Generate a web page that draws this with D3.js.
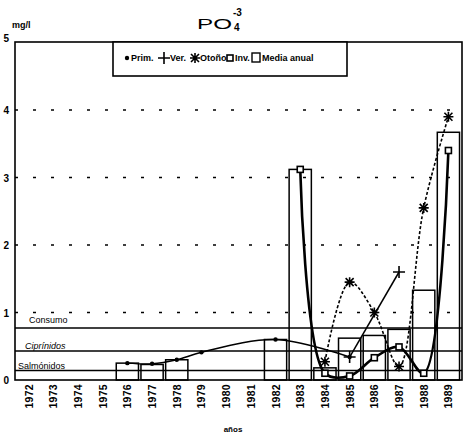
<!DOCTYPE html>
<html>
<head>
<meta charset="utf-8">
<script src="https://cdn.jsdelivr.net/npm/d3@7"></script>
<style>
  body { margin: 0; background: #fff; }
  text { font-family: "Liberation Sans", Arial, sans-serif; fill: #000; }
</style>
</head>
<body>
<svg id="chart" width="467" height="436"></svg>
<script>
// years on the x axis
const years = [1972,1973,1974,1975,1976,1977,1978,1979,1980,1981,1982,1983,1984,1985,1986,1987,1988,1989];
// seasonal PO4 values (mg/l), null = no sample
const prim   = [null,null,null,null,0.25,0.24,0.30,0.41,null,null,0.60,null,null,0.34,null,null,null,null];
const ver    = [null,null,null,null,null,null,null,null,null,null,null,null,null,0.34,null,1.60,null,null];
const otono  = [null,null,null,null,null,null,null,null,null,null,null,null,0.27,1.45,1.00,0.20,2.55,3.90];
const inv    = [null,null,null,null,null,null,null,null,null,null,null,3.12,0.10,0.06,0.33,0.49,0.10,3.40];
const media  = [null,null,null,null,0.25,0.23,0.30,null,null,null,0.60,3.12,0.18,0.62,0.66,0.75,1.33,3.67];
// limit lines
const limitNames  = ["Consumo","Ciprínidos","Salmónidos"];
const limitValues = [0.77,0.43,0.14];
const yTicks = [0,1,2,3,4,5];

const svg = d3.select("#chart");
const mLeft = 15, mRight = 462, mTop = 42, mBottom = 380;

const x = d3.scaleBand().domain(years).range([mLeft, mRight]).padding(0.1);
const y = d3.scaleLinear().domain([0,5]).range([mBottom, mTop + 0.5]);
const cx = d => x(d) + x.bandwidth()/2;

// dotted grid
svg.append("g")
    .selectAll("line")
    .data(yTicks.filter(d => d > 0 && d < 5))
    .enter().append("line")
    .attr("x1", mLeft).attr("x2", mRight)
    .attr("y1", y).attr("y2", y)
    .attr("stroke", "#000")
    .attr("stroke-width", 1.3)
    .attr("stroke-dasharray", "3,15");

// limit lines + labels
svg.append("g")
    .selectAll("line")
    .data(limitValues)
    .enter().append("line")
    .attr("x1", mLeft).attr("x2", mRight)
    .attr("y1", y).attr("y2", y)
    .attr("stroke", "#000")
    .attr("stroke-width", 1.4);

const limitLabelX = [29, 25, 18];
const limitLabelDy = [-5, -2, -2];
svg.append("g")
    .selectAll("text")
    .data(limitNames)
    .enter().append("text")
    .attr("x", (d,i) => limitLabelX[i])
    .attr("y", (d,i) => y(limitValues[i]) + limitLabelDy[i])
    .attr("font-size", 9)
    .attr("font-style", (d,i) => i == 1 ? "italic" : "normal")
    .text(d => d);

// bars (media anual)
svg.append("g")
    .selectAll("rect")
    .data(years.filter((d,i) => media[i] != null))
    .enter().append("rect")
    .attr("x", d => x(d))
    .attr("width", x.bandwidth())
    .attr("y", d => y(media[years.indexOf(d)]))
    .attr("height", d => mBottom - y(media[years.indexOf(d)]))
    .attr("fill", "none")
    .attr("stroke", "#000")
    .attr("stroke-width", 1.5);

// season lines
const line = d3.line()
    .defined(d => d[1] != null)
    .x(d => cx(d[0]))
    .y(d => y(d[1]))
    .curve(d3.curveCatmullRom.alpha(0.5));

function pts(arr) {
    return years.map((yr,i) => [yr, arr[i]]).filter(d => d[1] != null);
}

svg.append("path").datum(pts(prim)).attr("d", line)
    .attr("fill", "none").attr("stroke", "#000").attr("stroke-width", 1.5);
svg.append("path").datum(pts(ver)).attr("d", line)
    .attr("fill", "none").attr("stroke", "#000").attr("stroke-width", 1.5);
svg.append("path").datum(pts(otono)).attr("d", line)
    .attr("fill", "none").attr("stroke", "#000").attr("stroke-width", 1.6)
    .attr("stroke-dasharray", "3,2");
svg.append("path").datum(pts(inv)).attr("d", line)
    .attr("fill", "none").attr("stroke", "#000").attr("stroke-width", 2.6);

// markers
function dot(g) {
    g.append("circle").attr("r", 2.2).attr("fill", "#000");
}
function plus(g) {
    g.append("path").attr("d", "M-6,0H6M0,-6V6").attr("stroke", "#000").attr("stroke-width", 1.6);
}
function star(g) {
    g.append("path").attr("d", "M-5,0H5M0,-5V5M-4,-4L4,4M-4,4L4,-4")
        .attr("stroke", "#000").attr("stroke-width", 1.6);
}
function sq(g) {
    g.append("rect").attr("x", -3).attr("y", -3).attr("width", 6).attr("height", 6)
        .attr("fill", "#fff").attr("stroke", "#000").attr("stroke-width", 1.6);
}

function markers(arr, fn) {
    svg.append("g")
        .selectAll("g")
        .data(pts(arr))
        .enter().append("g")
        .attr("transform", d => "translate(" + cx(d[0]) + "," + y(d[1]) + ")")
        .each(function() { fn(d3.select(this)); });
}
markers(prim, dot);
markers(ver, plus);
markers(otono, star);
markers(inv, sq);

// frame
svg.append("rect")
    .attr("x", mLeft).attr("y", mTop)
    .attr("width", mRight - mLeft).attr("height", mBottom - mTop)
    .attr("fill", "none").attr("stroke", "#000").attr("stroke-width", 1.6);

// y labels
svg.append("g")
    .selectAll("text")
    .data(yTicks)
    .enter().append("text")
    .attr("x", 9)
    .attr("y", d => y(d) + (d == 5 ? -1 : 4))
    .attr("text-anchor", "end")
    .attr("font-size", 10)
    .attr("font-weight", "bold")
    .text(d => d);

// x labels, rotated
svg.append("g")
    .selectAll("text")
    .data(years)
    .enter().append("text")
    .attr("transform", d => "translate(" + (cx(d) + 4) + "," + (mBottom + 4) + ") rotate(-90)")
    .attr("text-anchor", "end")
    .attr("font-size", 10.5)
    .attr("font-weight", "bold")
    .attr("letter-spacing", 0.3)
    .text(d => d);

svg.append("text")
    .attr("x", 233).attr("y", 432)
    .attr("text-anchor", "middle")
    .attr("font-size", 8)
    .attr("font-weight", "bold")
    .text("años");

svg.append("text")
    .attr("x", 12).attr("y", 28)
    .attr("font-size", 9)
    .attr("font-weight", "bold")
    .text("mg/l");

// title PO4 -3
svg.append("text")
    .attr("x", 197).attr("y", 29)
    .attr("font-size", 15)
    .attr("textLength", 35)
    .attr("lengthAdjust", "spacingAndGlyphs")
    .text("PO");
svg.append("text").attr("x", 233).attr("y", 16).attr("font-size", 10).attr("font-weight", "bold").text("-3");
svg.append("text").attr("x", 234).attr("y", 31).attr("font-size", 10).attr("font-weight", "bold").text("4");

// legend
const lg = svg.append("g");
lg.append("rect")
    .attr("x", 113).attr("y", mTop)
    .attr("width", 234).attr("height", 34)
    .attr("fill", "#fff").attr("stroke", "#000").attr("stroke-width", 1.6);

const legendNames = ["Prim.","Ver.","Otoño","Inv.","Media anual"];
const legendSym = [dot, plus, star, sq, null];
const legendSymX = [127, 164, 195, 230, 256];
const legendTextX = [131, 170, 200, 235, 262];
legendNames.forEach((name, i) => {
    const g = lg.append("g").attr("transform", "translate(" + legendSymX[i] + ",58)");
    if (legendSym[i]) legendSym[i](g);
    else g.append("rect").attr("x", -4).attr("y", -5).attr("width", 8).attr("height", 9)
        .attr("fill", "none").attr("stroke", "#000").attr("stroke-width", 1.4);
    lg.append("text")
        .attr("x", legendTextX[i]).attr("y", 61)
        .attr("font-size", 9)
        .attr("font-weight", "bold")
        .text(name);
});
</script>
</body>
</html>
